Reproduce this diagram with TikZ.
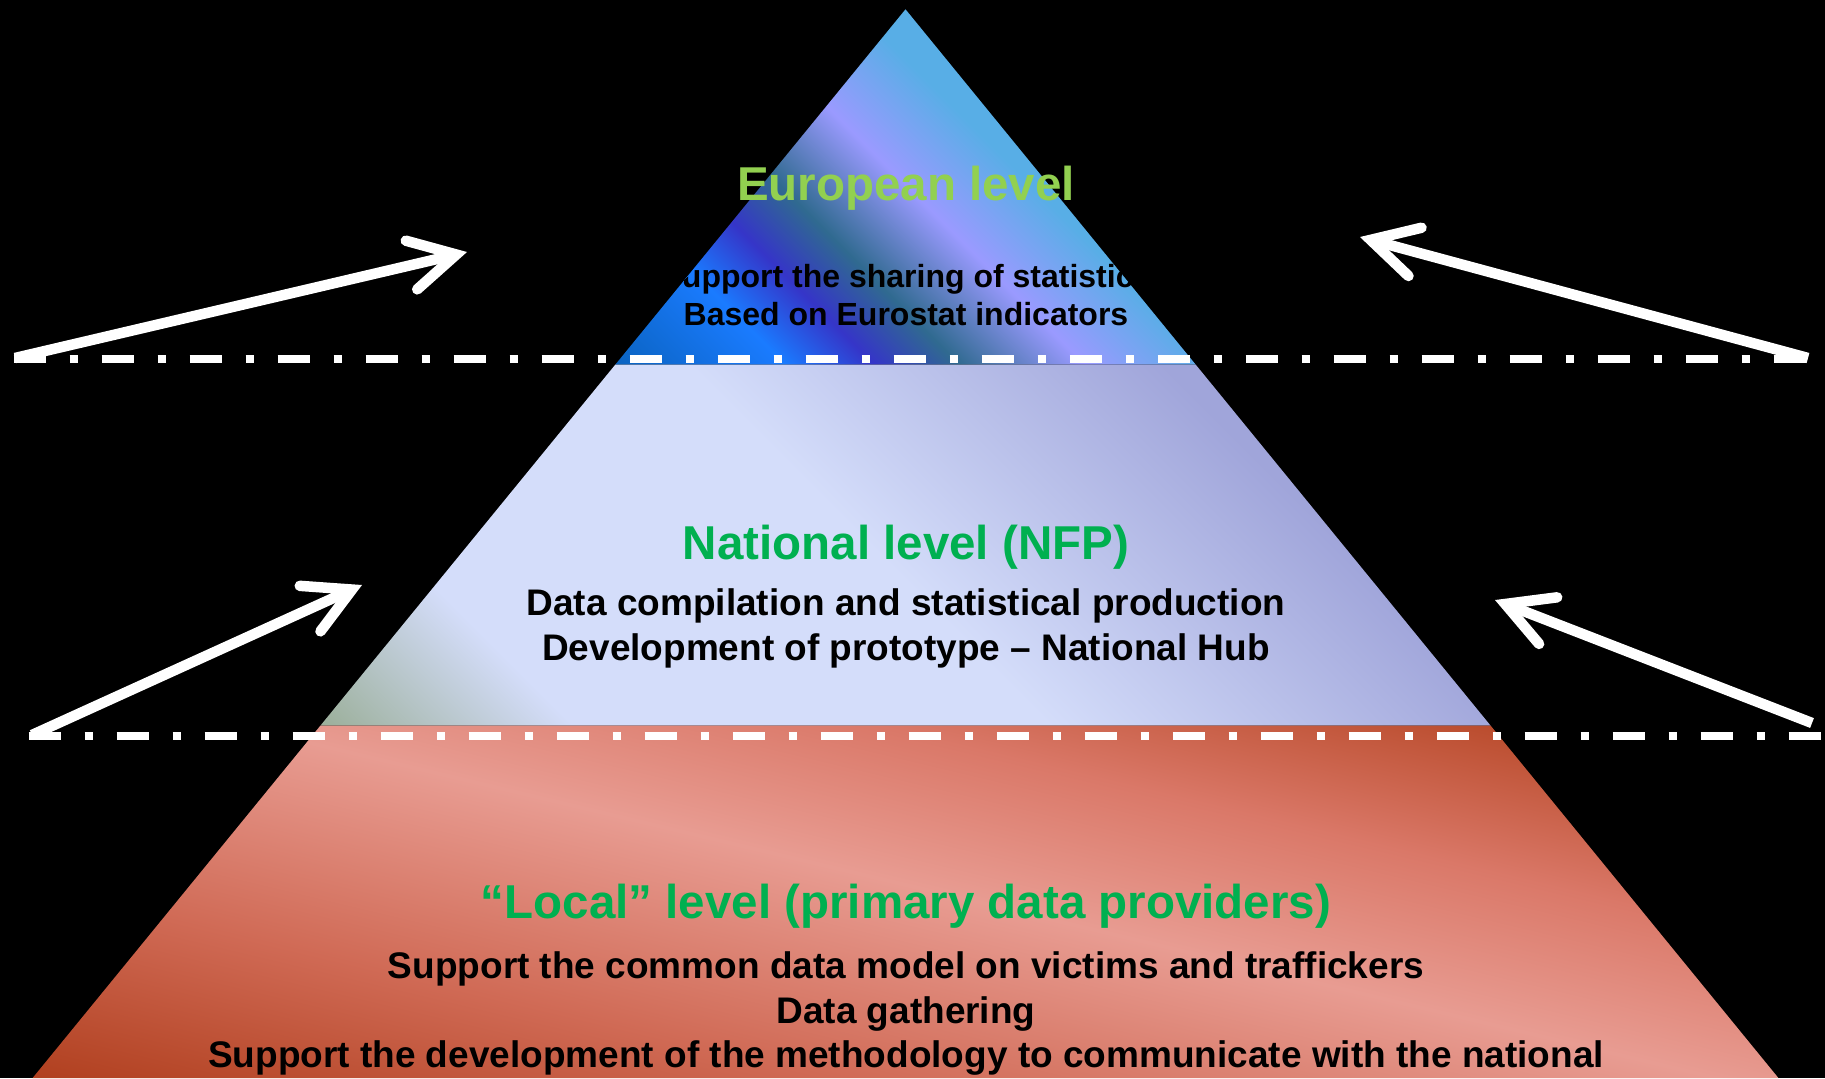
\documentclass[tikz,border=0pt]{standalone}
\usepackage{fontspec}
\setmainfont{Liberation Sans}
\usetikzlibrary{arrows.meta}

% level colours
\definecolor{euGreen}{HTML}{92D050}
\definecolor{lvGreen}{HTML}{00B050}
\definecolor{eu0}{HTML}{0A63C0}
\definecolor{eu1}{HTML}{1A7BFF}
\definecolor{eu2}{HTML}{3535C8}
\definecolor{eu3}{HTML}{306A90}
\definecolor{eu4}{HTML}{9A9AFF}
\definecolor{eu5}{HTML}{58AEE6}
\definecolor{na0}{HTML}{9AAE98}
\definecolor{na1}{HTML}{D4DDFA}
\definecolor{na2}{HTML}{A0A5DA}
\definecolor{lo0}{HTML}{B03F1E}
\definecolor{lo1}{HTML}{D06A55}
\definecolor{lo2}{HTML}{E89C92}
\definecolor{lo3}{HTML}{DA7868}
\definecolor{lo4}{HTML}{BA4C2D}

\pgfdeclarehorizontalshading{europeShade}{100bp}{color(0bp)=(eu0); color(27bp)=(eu0); color(35.6bp)=(eu1); color(40.1bp)=(eu2); color(44.4bp)=(eu3); color(50.8bp)=(eu4); color(57.2bp)=(eu5); color(100bp)=(eu5)}
\pgfdeclarehorizontalshading{nationShade}{100bp}{color(0bp)=(na0); color(29bp)=(na0); color(36bp)=(na1); color(49bp)=(na1); color(62bp)=(na2); color(100bp)=(na2)}
\pgfdeclarehorizontalshading{localShade}{100bp}{color(0bp)=(lo0); color(40bp)=(lo0); color(45bp)=(lo1); color(50.4bp)=(lo2); color(54.3bp)=(lo3); color(58.1bp)=(lo4); color(100bp)=(lo4)}

\tikzset{
  levelTitle/.style={anchor=base, font=\bfseries\fontsize{23.75}{28}\selectfont},
  levelText/.style={anchor=base, text=black, font=\bfseries\fontsize{18.5}{22}\selectfont},
  levelTextSmall/.style={anchor=base, text=black, font=\bfseries\fontsize{16}{19}\selectfont},
  dashdot/.style={draw=white, line width=4pt, dash pattern=on 16pt off 12pt on 4pt off 12pt},
  bigArrow/.style={draw=white, line width=5.25pt, -{Straight Barb[length=23pt,width=25pt,line cap=round,line join=miter]}}
}

\begin{document}
\begin{tikzpicture}[x=0.5pt,y=0.5pt,yscale=-1,xscale=1]
\useasboundingbox (0,0) rectangle (1825,1078);
\fill[black] (0,0) rectangle (1825,1078);

% pyramid corners
\coordinate (apex) at (905.5,9.3);
\coordinate (euL) at (615.4,364.5);
\coordinate (euR) at (1195.6,364.5);
\coordinate (naL) at (320.5,725.5);
\coordinate (naR) at (1490.5,725.5);
\coordinate (loL) at (32.6,1078);
\coordinate (loR) at (1778.4,1078);

% European level
\begin{scope}
  \clip (apex) -- (euR) -- (euL) -- cycle;
  \shade[shading=europeShade, shading angle=45] (555,-150) rectangle (1255,550);
  \node[levelTextSmall] (euLine1) at (906,287) {Support the sharing of statistics};
\end{scope}
% National level
\begin{scope}
  \clip (euL) -- (euR) -- (naR) -- (naL) -- cycle;
  \shade[shading=nationShade, shading angle=45] (255,-105) rectangle (1555,1195);
\end{scope}
% Local level
\begin{scope}
  \clip (naL) -- (naR) -- (loR) -- (loL) -- cycle;
  \shade[shading=localShade, shading angle=76.6] (-45,-50) rectangle (1855,1850);
\end{scope}

% dash-dot separators
\coordinate (sepTopS) at (13.7,358.5);
\coordinate (sepTopE) at (1806,358.5);
\coordinate (sepLowS) at (28.7,736);
\coordinate (sepLowE) at (1821,736);
\draw[dashdot] (sepTopS) -- (sepTopE);
\draw[dashdot] (sepLowS) -- (sepLowE);

% arrows
\coordinate (a1s) at (15,358);   \coordinate (a1e) at (467,252);
\coordinate (a2s) at (1808,358); \coordinate (a2e) at (1360,237);
\coordinate (a3s) at (32,735);   \coordinate (a3e) at (362,585);
\coordinate (a4s) at (1812,723); \coordinate (a4e) at (1495,600);
\draw[bigArrow] (a1s) -- (a1e);
\draw[bigArrow] (a2s) -- (a2e);
\draw[bigArrow] (a3s) -- (a3e);
\draw[bigArrow] (a4s) -- (a4e);

% texts
\node[levelTitle, text=euGreen] (euTitle) at (906,200) {European level};
\node[levelTextSmall] (euLine2) at (906,325) {Based on Eurostat indicators};
\node[levelTitle, text=lvGreen] (naTitle) at (906,559) {National level (NFP)};
\node[levelText] (naLine1) at (906,615) {Data compilation and statistical production};
\node[levelText] (naLine2) at (906,660) {Development of prototype – National Hub};
\node[levelTitle, text=lvGreen] (loTitle) at (906,918) {“Local” level (primary data providers)};
\node[levelText] (loLine1) at (906,978) {Support the common data model on victims and traffickers};
\node[levelText] (loLine2) at (906,1023) {Data gathering};
\node[levelText] (loLine3) at (906,1067) {Support the development of the methodology to communicate with the national};
\end{tikzpicture}
\end{document}
